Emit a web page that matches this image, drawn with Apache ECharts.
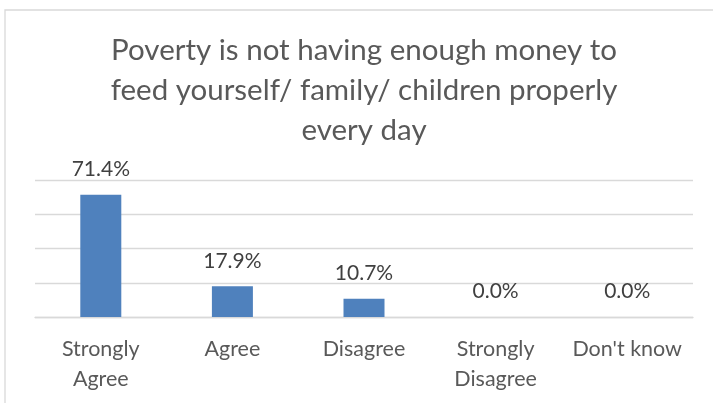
<!DOCTYPE html>
<html>
<head>
<meta charset="utf-8">
<script src="https://cdn.jsdelivr.net/npm/echarts@6/dist/echarts.min.js"></script>
<style>
  html, body { margin: 0; padding: 0; background: #ffffff; }
  #chart { width: 713px; height: 403px; }
</style>
</head>
<body>
<div id="chart"></div>
<script>
// Survey responses: share of respondents per answer
const categories = ['Strongly\nAgree', 'Agree', 'Disagree', 'Strongly\nDisagree', "Don't know"];
const shares = [71.4, 17.9, 10.7, 0.0, 0.0];
const titleLines = [
  'Poverty is not having enough money to',
  'feed yourself/ family/ children properly',
  'every day'
];

const FONT = 'Lato, "Open Sans", sans-serif';
const chart = echarts.init(document.getElementById('chart'), null, { renderer: 'canvas' });

chart.setOption({
  backgroundColor: '#ffffff',
  animation: false,
  graphic: [
    {
      type: 'rect',
      shape: { x: 5, y: 10, width: 760, height: 420 },
      style: { fill: 'none', stroke: '#d9d9d9', lineWidth: 1.3 },
      silent: true
    },
    {
      type: 'text',
      x: 364,
      y: 30,
      style: {
        text: titleLines.join('\n'),
        fill: '#595959',
        font: '29.5px ' + FONT,
        lineHeight: 40,
        align: 'center',
        verticalAlign: 'top'
      }
    }
  ],
  grid: { left: 35, right: 20, top: 180, bottom: 86 },
  xAxis: {
    type: 'category',
    data: categories,
    axisLine: { lineStyle: { color: '#d9d9d9', width: 1.3 } },
    axisTick: { show: false },
    axisLabel: {
      color: '#595959',
      fontFamily: FONT,
      fontSize: 21.5,
      lineHeight: 30,
      margin: 17,
      interval: 0
    }
  },
  yAxis: {
    type: 'value',
    min: 0,
    max: 80,
    interval: 20,
    axisLabel: { show: false },
    axisLine: { show: false },
    axisTick: { show: false },
    splitLine: { lineStyle: { color: '#d9d9d9', width: 1.3 } }
  },
  series: [{
    type: 'bar',
    data: shares,
    barWidth: 41,
    itemStyle: { color: '#4f81bd' },
    label: {
      show: true,
      position: 'top',
      distance: 15,
      color: '#404040',
      fontFamily: FONT,
      fontSize: 21,
      formatter: p => p.value.toFixed(1) + '%'
    }
  }]
});
</script>
</body>
</html>
